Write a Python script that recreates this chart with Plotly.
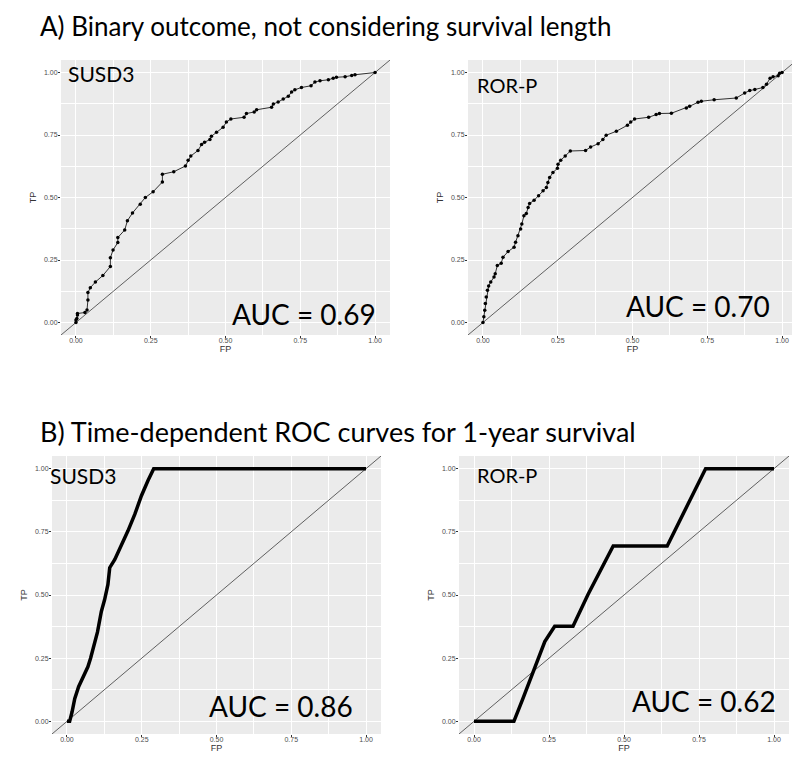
import plotly.graph_objects as go

# ---- Data ----
susd3_a_fp = [0.0, 0.0, 0.003, 0.005, 0.005, 0.03, 0.037, 0.04, 0.04, 0.048, 0.065, 0.09, 0.115, 0.115,
              0.124, 0.14, 0.14, 0.163, 0.172, 0.189, 0.215, 0.232, 0.258, 0.289, 0.289, 0.327, 0.366,
              0.375, 0.384, 0.408, 0.42, 0.43, 0.448, 0.453, 0.47, 0.492, 0.503, 0.518, 0.562, 0.57,
              0.596, 0.604, 0.654, 0.66, 0.676, 0.693, 0.71, 0.721, 0.732, 0.754, 0.786, 0.799, 0.816,
              0.844, 0.86, 0.871, 0.9, 0.922, 0.933, 1.0]
susd3_a_tp = [0.0, 0.01, 0.016, 0.03, 0.036, 0.04, 0.05, 0.09, 0.12, 0.139, 0.162, 0.188, 0.224, 0.259,
              0.29, 0.32, 0.34, 0.37, 0.407, 0.438, 0.473, 0.5, 0.523, 0.562, 0.593, 0.603, 0.626,
              0.649, 0.666, 0.688, 0.712, 0.721, 0.732, 0.745, 0.761, 0.781, 0.802, 0.814, 0.821, 0.836,
              0.842, 0.851, 0.861, 0.874, 0.882, 0.894, 0.905, 0.922, 0.931, 0.94, 0.947, 0.962, 0.967,
              0.971, 0.977, 0.981, 0.983, 0.988, 0.991, 1.0]

rorp_a_fp = [0.0, 0.003, 0.006, 0.008, 0.011, 0.015, 0.019, 0.026, 0.037, 0.041, 0.048, 0.061, 0.067,
             0.084, 0.104, 0.109, 0.117, 0.126, 0.13, 0.137, 0.145, 0.151, 0.156, 0.171, 0.186, 0.201,
             0.212, 0.217, 0.223, 0.234, 0.249, 0.251, 0.26, 0.275, 0.292, 0.343, 0.36, 0.385, 0.401,
             0.412, 0.446, 0.483, 0.494, 0.507, 0.554, 0.579, 0.59, 0.63, 0.68, 0.691, 0.719, 0.73,
             0.773, 0.847, 0.875, 0.892, 0.909, 0.936, 0.948, 0.96, 0.97, 0.987, 0.992, 1.0]
rorp_a_tp = [0.0, 0.023, 0.049, 0.076, 0.102, 0.129, 0.146, 0.162, 0.182, 0.195, 0.228, 0.237, 0.261,
             0.284, 0.301, 0.321, 0.347, 0.374, 0.394, 0.427, 0.436, 0.46, 0.476, 0.489, 0.507, 0.527,
             0.54, 0.56, 0.58, 0.6, 0.617, 0.633, 0.649, 0.666, 0.686, 0.688, 0.702, 0.715, 0.732,
             0.749, 0.765, 0.789, 0.802, 0.814, 0.821, 0.832, 0.836, 0.837, 0.858, 0.865, 0.881, 0.885,
             0.891, 0.898, 0.918, 0.928, 0.932, 0.94, 0.953, 0.977, 0.983, 0.987, 0.997, 1.0]

susd3_b_fp = [0.0, 0.009, 0.017, 0.026, 0.039, 0.057, 0.07, 0.079, 0.09, 0.102, 0.115, 0.126, 0.137,
              0.143, 0.16, 0.182, 0.204, 0.227, 0.249, 0.271, 0.29, 0.983, 1.0]
susd3_b_tp = [0.0, 0.0, 0.037, 0.09, 0.137, 0.183, 0.216, 0.25, 0.303, 0.353, 0.435, 0.482, 0.542,
              0.608, 0.641, 0.694, 0.754, 0.82, 0.893, 0.953, 1.0, 1.0, 1.0]

rorp_b_fp = [0.0, 0.133, 0.163, 0.202, 0.236, 0.269, 0.33, 0.38, 0.464, 0.644, 0.755, 0.772, 1.0]
rorp_b_tp = [0.0, 0.0, 0.09, 0.21, 0.316, 0.376, 0.376, 0.502, 0.694, 0.694, 0.966, 1.0, 1.0]

diag = [-0.05, 1.05]
tick_vals = [0.0, 0.25, 0.5, 0.75, 1.0]
tick_text = ["0.00", "0.25", "0.50", "0.75", "1.00"]

panel_names = ["SUSD3", "ROR-P", "SUSD3", "ROR-P"]
auc_labels = ["AUC = 0.69", "AUC = 0.70", "AUC = 0.86", "AUC = 0.62"]
titles = ["A) Binary outcome, not considering survival length",
          "B) Time-dependent ROC curves for 1-year survival"]

W, H = 800, 761
def xd(a, b):
    return [a / W, b / W]
def yd(top, bottom):
    return [1 - bottom / H, 1 - top / H]

domains = [
    (xd(53, 382), yd(52, 327)),
    (xd(460, 789), yd(52, 327)),
    (xd(44, 373), yd(448, 726)),
    (xd(451, 781), yd(448, 726)),
]

curves = [(susd3_a_fp, susd3_a_tp), (rorp_a_fp, rorp_a_tp),
          (susd3_b_fp, susd3_b_tp), (rorp_b_fp, rorp_b_tp)]

fig = go.Figure()
layout = dict(
    width=W, height=H,
    margin=dict(l=0, r=0, t=0, b=0),
    paper_bgcolor="white",
    plot_bgcolor="#EBEBEB",
    showlegend=False,
    font=dict(family="Lato, Arial, sans-serif", color="black"),
)

annotations = []
for i, ((dx, dy), (fx, ty)) in enumerate(zip(domains, curves)):
    n = i + 1
    xa = "x" if n == 1 else f"x{n}"
    ya = "y" if n == 1 else f"y{n}"
    fig.add_trace(go.Scatter(x=diag, y=diag, mode="lines", xaxis=xa, yaxis=ya,
                             line=dict(color="black", width=0.6), hoverinfo="skip"))
    if i < 2:
        fig.add_trace(go.Scatter(x=fx, y=ty, mode="lines+markers", xaxis=xa, yaxis=ya,
                                 line=dict(color="black", width=0.8),
                                 marker=dict(color="black", size=3.5)))
    else:
        fig.add_trace(go.Scatter(x=fx, y=ty, mode="lines", xaxis=xa, yaxis=ya,
                                 line=dict(color="black", width=3.5)))
    axis_common = dict(
        range=[-0.05, 1.05], tickvals=tick_vals, ticktext=tick_text,
        showgrid=True, gridcolor="white", gridwidth=1.1,
        minor=dict(tickvals=[0.125, 0.375, 0.625, 0.875], showgrid=True,
                   gridcolor="white", gridwidth=0.5),
        zeroline=False, showline=False,
        ticks="outside", ticklen=2, tickwidth=0.5, tickcolor="#333333",
        tickfont=dict(size=7, color="#4D4D4D", family="Liberation Sans, Arial"),
        fixedrange=True,
    )
    layout[("xaxis" if n == 1 else f"xaxis{n}")] = dict(
        axis_common, domain=dx, anchor=ya, ticklabelstandoff=-3,
        title=dict(text="FP", font=dict(size=9, color="#333333", family="Liberation Sans, Arial"),
                   standoff=1))
    layout[("yaxis" if n == 1 else f"yaxis{n}")] = dict(
        axis_common, domain=dy, anchor=xa, ticklabelstandoff=-1,
        title=dict(text="TP", font=dict(size=9, color="#333333", family="Liberation Sans, Arial"),
                   standoff=5))

# panel names (paper coordinates, left anchored)
name_pos = [(57.5 / W, 1 - 66 / H, 21), (467 / W, 1 - 77 / H, 20),
            (40 / W, 1 - 467 / H, 21), (467 / W, 1 - 467 / H, 20)]
for lab, (x, y, fs) in zip(panel_names, name_pos):
    annotations.append(dict(text=lab, xref="paper", yref="paper", x=x, y=y,
                            xanchor="left", yanchor="middle", showarrow=False,
                            font=dict(size=fs, color="black")))

auc_pos = [(1.01, 0.035, "x", "y"), (0.965, 0.068, "x2", "y2"),
           (0.963, 0.06, "x3", "y3"), (1.013, 0.08, "x4", "y4")]
for lab, (x, y, xr, yr) in zip(auc_labels, auc_pos):
    annotations.append(dict(text=lab, xref=xr, yref=yr, x=x, y=y, xanchor="right",
                            yanchor="middle", showarrow=False,
                            font=dict(size=28, color="black")))

annotations.append(dict(text=titles[0], xref="paper", yref="paper", x=30 / W, y=1.0,
                        xanchor="left", yanchor="top", showarrow=False,
                        font=dict(size=26, color="black")))
annotations.append(dict(text=titles[1], xref="paper", yref="paper", x=30 / W, y=1 - 423 / H,
                        xanchor="left", yanchor="middle", showarrow=False,
                        font=dict(size=27, color="black")))

layout["annotations"] = annotations
fig.update_layout(**layout)
fig.write_html("out.html")
